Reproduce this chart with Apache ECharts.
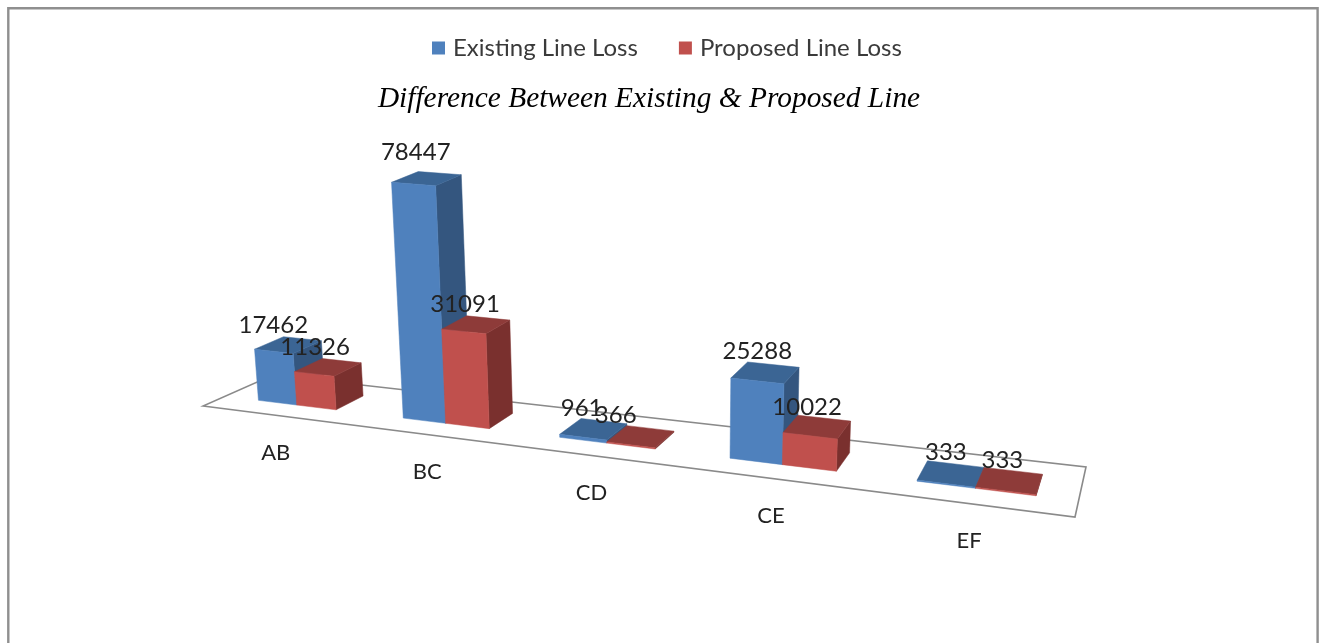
<!DOCTYPE html>
<html>
<head>
<meta charset="utf-8">
<style>html,body{margin:0;padding:0;background:#fff}#chart{width:1324px;height:643px}</style>
<script src="https://cdn.jsdelivr.net/npm/echarts@6/dist/echarts.min.js"></script>
</head>
<body>
<div id="chart"></div>
<script>
// Line loss per section
const categories = ['AB', 'BC', 'CD', 'CE', 'EF'];
const existingLoss = [17462, 78447, 961, 25288, 333];
const proposedLoss = [11326, 31091, 366, 10022, 333];

// Floor of the 3D scene: front-left, front-right, back-right, back-left
const floorCorners = [[203, 406], [1075, 517], [1086, 467], [273, 375]];
// Point that all upright edges converge to
const verticalVanish = [676, 5900];
// Depth range of the columns on the floor, and their band layout
const barDepth = [0.3, 0.72];
const barHalfWidth = 0.2825;   // fraction of a category band
const bandShift = [0.007, 0.013, 0.014, 0.011, 0.005];
// Value label placement relative to the centre of a column's lid
const existingLabelShift = [-15, -11, -12, -8, -5];
const proposedLabelShift = [-13, -11, -25, -10, -7];
const existingLabelLift = [20, 26, 21, 21, 21];
const proposedLabelLift = [20, 20, 21, 20, 20];

const palette = {
  existing: { front: '#4F81BD', side: '#34567F', top: '#3B6594' },
  proposed: { front: '#C0504D', side: '#7A302E', top: '#8E3B39' }
};
const FONT = 'Lato, "Open Sans", sans-serif';

// Perspective map of the unit floor square on to the floor quad
const [p0, p1, p2, p3] = floorCorners;
const dx1 = p1[0] - p2[0], dx2 = p3[0] - p2[0], sx = p0[0] - p1[0] + p2[0] - p3[0];
const dy1 = p1[1] - p2[1], dy2 = p3[1] - p2[1], sy = p0[1] - p1[1] + p2[1] - p3[1];
const det = dx1 * dy2 - dx2 * dy1;
const g = (sx * dy2 - dx2 * sy) / det;
const h = (dx1 * sy - sx * dy1) / det;
const a = p1[0] - p0[0] + g * p1[0], b = p3[0] - p0[0] + h * p3[0];
const d = p1[1] - p0[1] + g * p1[1], e = p3[1] - p0[1] + h * p3[1];

function project(u, depth, height) {
  const w = g * u + h * depth + 1;
  const x = (a * u + b * depth + p0[0]) / w;
  const y = (d * u + e * depth + p0[1]) / w;
  if (!height) return [x, y];
  const vx = verticalVanish[0] - x, vy = verticalVanish[1] - y;
  const len = Math.hypot(vx, vy);
  const lift = height / Math.sqrt(w);
  return [x - vx / len * lift, y - vy / len * lift];
}

function quad(points, fill) {
  return {
    type: 'polygon',
    shape: { points },
    style: { fill, stroke: fill, lineWidth: 0.5 }
  };
}

// Draws one column from the cartesian scales, then lifts it into the scene
function columnRenderer(colors, side, labelShift, labelLift) {
  return function (params, api) {
    const cs = params.coordSys;
    const i = api.value(0);
    const band = api.size([1, 0])[0] / cs.width;
    const centre = (api.coord([i, 0])[0] - cs.x) / cs.width + bandShift[i];
    const half = band * barHalfWidth;
    const u0 = side < 0 ? centre - half : centre;
    const u1 = side < 0 ? centre : centre + half;
    const tall = api.coord([i, 0])[1] - api.coord([i, api.value(1)])[1];
    const [d0, d1] = barDepth;
    const base = (u, z) => project(u, z, 0);
    const lid = (u, z) => project(u, z, tall);
    const mid = (u0 + u1) / 2, midDepth = (d0 + d1) / 2;
    const anchor = project(mid, midDepth, tall);
    return {
      type: 'group',
      children: [
        quad([base(u1, d0), base(u1, d1), lid(u1, d1), lid(u1, d0)], colors.side),
        quad([lid(u0, d0), lid(u1, d0), lid(u1, d1), lid(u0, d1)], colors.top),
        quad([base(u0, d0), base(u1, d0), lid(u1, d0), lid(u0, d0)], colors.front),
        {
          type: 'text',
          z2: 100,
          style: {
            x: anchor[0] + labelShift[i],
            y: anchor[1] - labelLift[i],
            text: String(api.value(1)),
            align: 'center',
            verticalAlign: 'middle',
            fill: '#222',
            font: '24px ' + FONT
          }
        }
      ]
    };
  };
}

function renderFloor() {
  return {
    type: 'polygon',
    shape: { points: [project(0, 0), project(1, 0), project(1, 1), project(0, 1)] },
    style: { fill: '#fff', stroke: '#8A8A8A', lineWidth: 1.6 }
  };
}

function renderCategoryLabel(params, api) {
  const cs = params.coordSys;
  const i = api.value(0);
  const u = (api.coord([i, 0])[0] - cs.x) / cs.width + bandShift[i];
  const p = project(u, 0);
  return {
    type: 'text',
    style: {
      x: p[0], y: p[1] + 37.5,
      text: categories[i],
      align: 'center', verticalAlign: 'middle',
      fill: '#222', font: '22px ' + FONT
    }
  };
}

const chart = echarts.init(document.getElementById('chart'), null, { renderer: 'canvas' });
chart.setOption({
  animation: false,
  backgroundColor: '#fff',
  title: {
    text: 'Difference Between Existing & Proposed Line',
    left: 644, top: 80, textAlign: 'center',
    textStyle: {
      fontFamily: '"Liberation Serif", serif', fontStyle: 'italic',
      fontWeight: 'normal', fontSize: 29.4, color: '#000'
    }
  },
  legend: {
    data: ['Existing Line Loss', 'Proposed Line Loss'],
    left: 427, top: 31,
    icon: 'rect', itemWidth: 13, itemHeight: 13, itemGap: 41,
    textStyle: { fontFamily: FONT, fontSize: 24, color: '#3a3a3a', padding: [0, 0, 0, 3] }
  },
  grid: { left: 100, top: 100, width: 1000, height: 295 },
  xAxis: { type: 'category', data: categories, show: false },
  yAxis: { type: 'value', min: 0, max: 100000, show: false },
  graphic: [{
    type: 'rect',
    silent: true,
    shape: { x: 8.3, y: 8.3, width: 1309.3, height: 700 },
    style: { fill: 'none', stroke: '#8F8F8F', lineWidth: 2.4 }
  }],
  series: [
    {
      name: 'floor', type: 'custom', silent: true, clip: false,
      data: [[0, 0]], renderItem: renderFloor, z: 1
    },
    {
      name: 'axis labels', type: 'custom', silent: true, clip: false,
      data: categories.map((c, i) => [i, 0]), renderItem: renderCategoryLabel, z: 1
    },
    {
      name: 'Existing Line Loss', type: 'custom', silent: true, clip: false,
      itemStyle: { color: palette.existing.front }, z: 2,
      encode: { x: 0, y: 1 },
      data: existingLoss.map((v, i) => [i, v]),
      renderItem: columnRenderer(palette.existing, -1, existingLabelShift, existingLabelLift)
    },
    {
      name: 'Proposed Line Loss', type: 'custom', silent: true, clip: false,
      itemStyle: { color: palette.proposed.front }, z: 2,
      encode: { x: 0, y: 1 },
      data: proposedLoss.map((v, i) => [i, v]),
      renderItem: columnRenderer(palette.proposed, 1, proposedLabelShift, proposedLabelLift)
    }
  ]
});
</script>
</body>
</html>
